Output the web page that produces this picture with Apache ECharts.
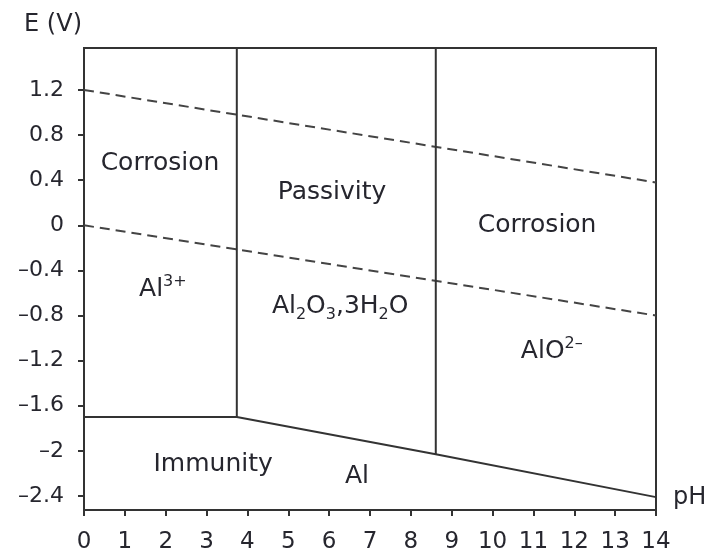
<!DOCTYPE html>
<html>
<head>
<meta charset="utf-8">
<script src="https://cdn.jsdelivr.net/npm/echarts@6/dist/echarts.min.js"></script>
<style>html,body{margin:0;padding:0;background:#fff}#c{width:725px;height:557px}</style>
</head>
<body>
<div id="c"></div>
<script>
// ---- data ----
const xTicks = [0,1,2,3,4,5,6,7,8,9,10,11,12,13,14];
const yTickValues = [1.2, 0.8, 0.4, 0, -0.4, -0.8, -1.2, -1.6, -2, -2.4];
const yTickLabels = ['1.2', '0.8', '0.4', '0', '\u20130.4', '\u20130.8', '\u20131.2', '\u20131.6', '\u20132', '\u20132.4'];
const yMin = -2.524, yMax = 1.572;
const upperDashed = [[0, 1.2], [14, 0.38]];
const lowerDashed = [[0, 0], [14, -0.8]];
const acidBoundary = [[3.74, yMax], [3.74, -1.7]];
const alkaliBoundary = [[8.61, yMax], [8.61, -2.03]];
const immunityBoundary = [[0, -1.7], [3.74, -1.7], [8.61, -2.03], [14, -2.41]];
const regionLabels = [
  { pos: [1.86, 0.55], text: 'Corrosion' },
  { pos: [6.07, 0.29], text: 'Passivity' },
  { pos: [11.09, 0.0], text: 'Corrosion' },
  { pos: [1.93, -0.57], text: 'Al{sup|3+}' },
  { pos: [6.27, -0.72], text: 'Al{sub|2}O{sub|3},3H{sub|2}O' },
  { pos: [11.45, -1.12], text: 'AlO{sup|2\u2013}' },
  { pos: [3.16, -2.12], text: 'Immunity' },
  { pos: [6.68, -2.23], text: 'Al' }
];

// ---- chart ----
const FONT = 'DejaVu Sans';
const TXT = '#26262e';
const LINE = '#333';
const chart = echarts.init(document.getElementById('c'));
const solid = (d) => ({ type: 'line', data: d, symbol: 'none', silent: true,
  lineStyle: { color: LINE, width: 2 }, z: 3 });
const dashed = (d) => ({ type: 'line', data: d, symbol: 'none', silent: true,
  lineStyle: { color: '#444', width: 2, type: [10, 6] }, z: 3 });

chart.setOption({
  animation: false,
  grid: { left: 84, right: 69, top: 48, bottom: 47, show: true, borderColor: LINE, borderWidth: 2 },
  xAxis: {
    type: 'value', min: 0, max: 14, interval: 1,
    name: 'pH', nameLocation: 'end', nameGap: 17,
    nameTextStyle: { fontFamily: FONT, fontSize: 24, color: TXT, verticalAlign: 'bottom', padding: [0, 0, 0, 0] },
    axisLine: { show: true, onZero: false, lineStyle: { color: LINE, width: 2 } },
    axisTick: { show: true, inside: false, length: 6, lineStyle: { color: LINE, width: 2 } },
    axisLabel: { margin: 21, fontFamily: FONT, fontSize: 23, color: TXT,
      customValues: xTicks, formatter: (v) => String(v) },
    splitLine: { show: false }
  },
  yAxis: {
    type: 'value', min: yMin, max: yMax,
    name: 'E (V)', nameLocation: 'end', nameGap: 11,
    nameTextStyle: { fontFamily: FONT, fontSize: 24, color: TXT, align: 'right', padding: [0, 2, 0, 0] },
    axisLine: { show: true, onZero: false, lineStyle: { color: LINE, width: 2 } },
    axisTick: { show: true, inside: false, length: 6, lineStyle: { color: LINE, width: 2 }, customValues: yTickValues },
    axisLabel: { margin: 20, fontFamily: FONT, fontSize: 22, color: TXT, customValues: yTickValues,
      formatter: (v) => { const i = yTickValues.findIndex(t => Math.abs(t - v) < 1e-6); return i >= 0 ? yTickLabels[i] : ''; } },
    splitLine: { show: false }
  },
  series: [
    dashed(upperDashed),
    dashed(lowerDashed),
    solid(acidBoundary),
    solid(alkaliBoundary),
    solid(immunityBoundary),
    {
      type: 'scatter', symbolSize: 0, silent: true, z: 5,
      itemStyle: { color: TXT, opacity: 1 },
      data: regionLabels.map(r => ({ value: r.pos, label: { formatter: r.text } })),
      label: {
        show: true, position: 'inside', fontFamily: FONT, fontSize: 25, color: TXT, lineHeight: 32,
        opacity: 1, textBorderWidth: 0, textBorderColor: 'transparent',
        rich: {
          sup: { fontFamily: FONT, fontSize: 16, color: TXT, verticalAlign: 'top', lineHeight: 32, textBorderWidth: 0 },
          sub: { fontFamily: FONT, fontSize: 16, color: TXT, verticalAlign: 'bottom', lineHeight: 24, textBorderWidth: 0 }
        }
      }
    }
  ]
});
</script>
</body>
</html>
